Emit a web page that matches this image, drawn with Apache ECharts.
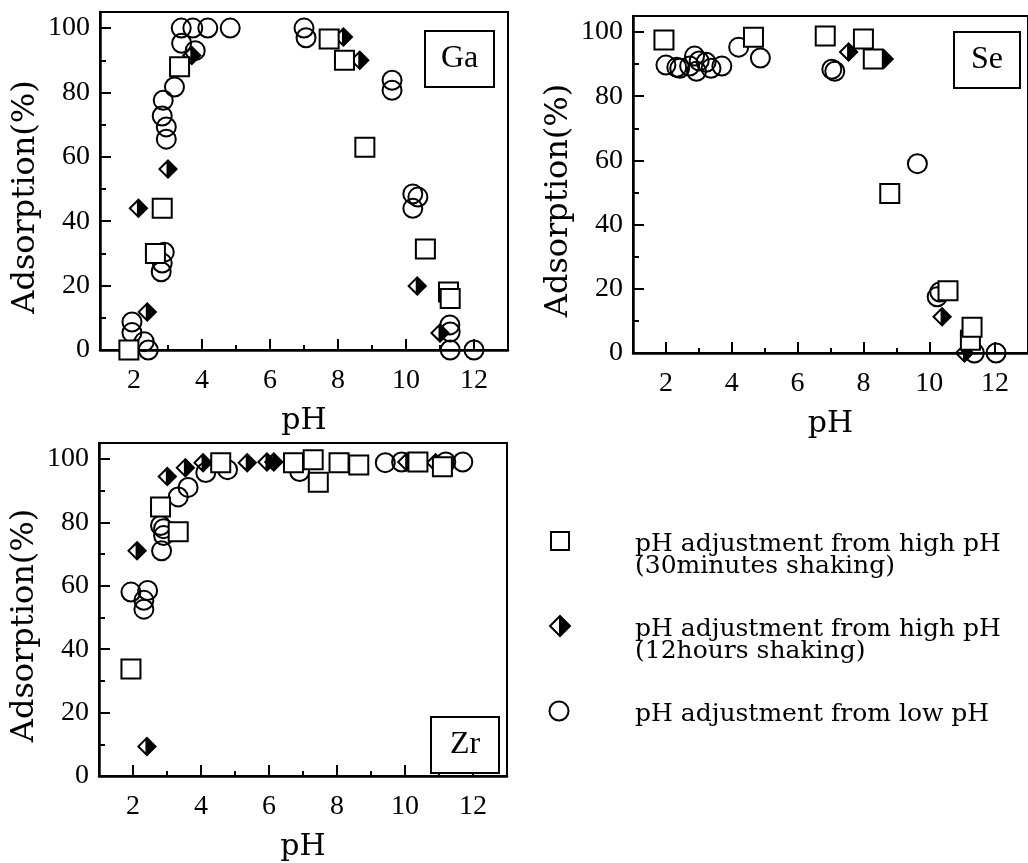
<!DOCTYPE html>
<html>
<head>
<meta charset="utf-8">
<style>
  html, body { margin: 0; padding: 0; background: #fff; }
  #chart { width: 1028px; height: 863px; }
</style>
<script src="https://cdn.jsdelivr.net/npm/echarts@6/dist/echarts.min.js"></script>
</head>
<body>
<div id="chart"></div>
<script>
// Adsorption (%) versus pH for Ga, Se and Zr, three ways of adjusting pH.

// Series names
const seriesNames = [
  'pH adjustment from high pH\n(30minutes shaking)',
  'pH adjustment from high pH\n(12hours shaking)',
  'pH adjustment from low pH'
];
const panelNames = ['Ga', 'Se', 'Zr'];

// Axis ticks
const xMajor = [2, 4, 6, 8, 10, 12];
const xMinor = [3, 5, 7, 9, 11];
const yMajor = [0, 20, 40, 60, 80, 100];
const yMinor = [10, 30, 50, 70, 90];

// Ga: [pH, adsorption %]
const gaSquare = [[1.85, 0], [2.63, 30], [2.83, 44], [3.34, 88], [7.74, 96.6], [8.19, 90],
  [8.79, 63], [10.57, 31.4], [11.25, 18], [11.3, 16]];
const gaDiamond = [[2.13, 44], [2.39, 11.8], [3.0, 56.2], [3.7, 91.5], [8.16, 97.2], [8.64, 90],
  [10.33, 19.9], [11.0, 5.3]];
const gaCircle = [[1.94, 8.7], [1.94, 5.4], [2.3, 2.6], [2.42, 0], [2.8, 24.3], [2.83, 27],
  [2.89, 30.4], [2.86, 77.6], [2.83, 72.7], [2.95, 69.3], [2.95, 65.5], [3.19, 81.7],
  [3.4, 95.3], [3.8, 93], [3.39, 100], [3.73, 100], [4.17, 100], [4.83, 100], [7.0, 100],
  [7.06, 97], [9.59, 83.8], [9.59, 80.7], [10.2, 48.5], [10.35, 47.5], [10.2, 44],
  [11.29, 7.8], [11.3, 5.6], [11.3, 0], [12.0, 0]];

// Se: [pH, adsorption %]
const seSquare = [[1.94, 97.5], [4.66, 98.4], [6.84, 98.8], [8.0, 97.8], [8.3, 91.6], [8.8, 49.7],
  [10.57, 19.4], [11.25, 4], [11.3, 8]];
const seDiamond = [[7.55, 93.8], [8.63, 91.6], [10.39, 11.3], [11.07, 0]];
const seCircle = [[2.0, 89.7], [2.33, 89], [2.42, 88.7], [2.72, 89.4], [2.87, 92.5], [2.93, 87.8],
  [3.01, 91], [3.22, 90.6], [3.37, 88.7], [3.7, 89.4], [4.21, 95.3], [4.87, 91.9], [7.04, 88.4],
  [7.13, 87.8], [9.64, 59], [10.24, 17.5], [10.32, 19], [11.37, 0], [12.03, 0]];

// Zr: [pH, adsorption %]
const zrSquare = [[1.94, 33.7], [2.81, 84.8], [3.33, 77], [4.58, 98.8], [6.72, 98.8], [7.3, 99.7],
  [7.45, 92.6], [8.06, 98.8], [8.64, 98.1], [10.38, 99], [11.1, 97.5]];
const zrDiamond = [[2.12, 71], [2.41, 9.3], [3.01, 94.4], [3.54, 97.2], [4.06, 98.8], [5.36, 98.8],
  [5.94, 99], [6.14, 99], [10.05, 99], [10.9, 98.8]];
const zrCircle = [[1.94, 58], [2.43, 58.5], [2.32, 55.4], [2.32, 52.6], [2.84, 71], [2.9, 75.8],
  [2.81, 79], [2.9, 78], [3.33, 88], [3.62, 91], [4.14, 95.7], [4.78, 96.6], [6.9, 96],
  [9.42, 98.8], [9.9, 99], [11.2, 99], [11.7, 99]];

const panels = [
  { square: gaSquare, diamond: gaDiamond, circle: gaCircle },
  { square: seSquare, diamond: seDiamond, circle: seCircle },
  { square: zrSquare, diamond: zrDiamond, circle: zrCircle }
];

const SERIF = 'Liberation Serif';
const SERIF_WIDE = 'DejaVu Serif';
const INK = '#000';

// Half-filled diamond: black right half, open left half (hole cut with opposite winding)
const DIAMOND_PATH = 'M0,-10 L10,0 L0,10 L-10,0 Z M-1.5,-5.67 L-7.17,0 L-1.5,5.67 Z';

const grids = [
  { left: 100, top: 12, width: 408, height: 338 },
  { left: 633, top: 16, width: 402, height: 337 },
  { left: 99, top: 443, width: 408, height: 340 }
];

const tickLine = { color: INK, width: 2 };

const xAxes = [];
const yAxes = [];
grids.forEach((g, i) => {
  xAxes.push({
    gridIndex: i, type: 'value', min: 1, max: 13, position: 'bottom',
    axisLine: { show: true, lineStyle: { color: INK, width: 2.5 } },
    axisTick: { show: true, inside: true, length: 11, lineStyle: tickLine, customValues: xMajor },
    axisLabel: { customValues: xMajor, margin: 17, fontFamily: SERIF, fontSize: 28, color: INK },
    splitLine: { show: false },
    name: 'pH', nameLocation: 'middle', nameGap: 56,
    nameTextStyle: { fontFamily: SERIF_WIDE, fontSize: 30, color: INK }
  });
  xAxes.push({
    gridIndex: i, type: 'value', min: 1, max: 13, position: 'bottom',
    axisLine: { show: false },
    axisTick: { show: true, inside: true, length: 5, lineStyle: tickLine, customValues: xMinor },
    axisLabel: { show: false },
    splitLine: { show: false }
  });
  yAxes.push({
    gridIndex: i, type: 'value', min: 0, max: 105, position: 'left',
    axisLine: { show: true, lineStyle: { color: INK, width: 2.5 } },
    axisTick: { show: true, inside: true, length: 11, lineStyle: tickLine, customValues: yMajor },
    axisLabel: { customValues: yMajor, margin: 10, fontFamily: SERIF, fontSize: 28, color: INK },
    splitLine: { show: false },
    name: 'Adsorption(%)', nameLocation: 'middle', nameGap: 58,
    nameTextStyle: { fontFamily: SERIF_WIDE, fontSize: 32, color: INK, padding: [0, 32, 0, 0] }
  });
  yAxes.push({
    gridIndex: i, type: 'value', min: 0, max: 105, position: 'left',
    axisLine: { show: false },
    axisTick: { show: true, inside: true, length: 6, lineStyle: tickLine, customValues: yMinor },
    axisLabel: { show: false },
    splitLine: { show: false }
  });
});

const series = [];
panels.forEach((p, i) => {
  const axisRef = { xAxisIndex: i * 2, yAxisIndex: i * 2 };
  series.push(Object.assign({
    name: seriesNames[2], type: 'scatter', data: p.circle, symbol: 'circle', symbolSize: 19,
    itemStyle: { color: 'rgba(255,255,255,0)', borderColor: INK, borderWidth: 2, opacity: 1 },
    z: 2
  }, axisRef));
  series.push(Object.assign({
    name: seriesNames[1], type: 'scatter', data: p.diamond, symbol: 'path://' + DIAMOND_PATH,
    symbolSize: 20, itemStyle: { color: INK, borderWidth: 0, opacity: 1 }, z: 3
  }, axisRef));
  series.push(Object.assign({
    name: seriesNames[0], type: 'scatter', data: p.square, symbol: 'rect', symbolSize: 19,
    itemStyle: { color: '#fff', borderColor: INK, borderWidth: 2, opacity: 1 }, z: 4
  }, axisRef));
});

// Boxed element labels inside each panel
const labelBoxes = [
  { left: 425, top: 31, padding: [11, 16] },
  { left: 954, top: 32, padding: [11, 17] },
  { left: 431, top: 717, padding: [11, 19] }
];
const titles = labelBoxes.map((b, i) => ({
  text: panelNames[i], left: b.left, top: b.top, padding: b.padding,
  borderColor: INK, borderWidth: 2, backgroundColor: '#fff',
  textStyle: { fontFamily: SERIF, fontSize: 32, fontWeight: 'normal', color: INK, lineHeight: 34 }
}));

// Legend drawn at the lower right
const legendFont = { fontFamily: SERIF_WIDE, fontSize: 25, fill: INK };
const legendRows = [
  { icon: 'square', cy: 541, lines: seriesNames[0].split('\n') },
  { icon: 'diamond', cy: 626, lines: seriesNames[1].split('\n') },
  { icon: 'circle', cy: 711, lines: seriesNames[2].split('\n') }
];
const graphics = [];
legendRows.forEach(r => {
  if (r.icon === 'square') {
    graphics.push({ type: 'rect', shape: { x: 551, y: r.cy - 9, width: 18, height: 18 },
      style: { fill: '#fff', stroke: INK, lineWidth: 2 } });
  } else if (r.icon === 'diamond') {
    graphics.push({ type: 'polygon', shape: { points: [[560, r.cy - 10], [570, r.cy], [560, r.cy + 10], [550, r.cy]] },
      style: { fill: '#fff', stroke: INK, lineWidth: 2 } });
    graphics.push({ type: 'polygon', shape: { points: [[559, r.cy - 10], [570, r.cy], [559, r.cy + 10]] },
      style: { fill: INK } });
  } else {
    graphics.push({ type: 'circle', shape: { cx: 559, cy: r.cy, r: 9.5 },
      style: { fill: 'none', stroke: INK, lineWidth: 2 } });
  }
  r.lines.forEach((t, k) => {
    graphics.push({ type: 'text', x: 635, y: r.cy + 3 + k * 22,
      style: Object.assign({ text: t, verticalAlign: 'middle', align: 'left' }, legendFont) });
  });
});

const chart = echarts.init(document.getElementById('chart'), null, { renderer: 'canvas' });
chart.setOption({
  animation: false,
  backgroundColor: '#fff',
  title: titles,
  grid: grids.map(g => Object.assign({ show: true, borderColor: INK, borderWidth: 2, backgroundColor: 'transparent', containLabel: false }, g)),
  xAxis: xAxes,
  yAxis: yAxes,
  series: series,
  graphic: graphics
});
</script>
</body>
</html>
